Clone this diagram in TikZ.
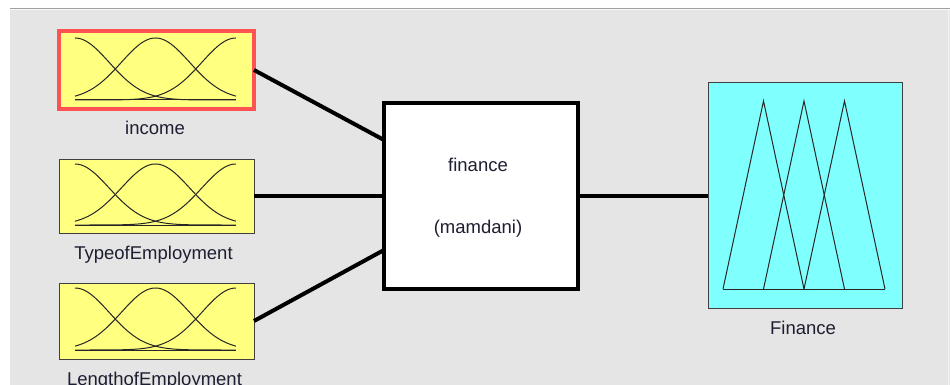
\documentclass[tikz,border=0pt]{standalone}
\usepackage{fontspec}
\setmainfont{Liberation Sans}
\usetikzlibrary{calc}
\definecolor{bggray}{HTML}{E5E5E5}
\definecolor{topline}{HTML}{A0A0A0}
\definecolor{mfyellow}{HTML}{FFFF80}
\definecolor{mfcyan}{HTML}{80FFFF}
\definecolor{selred}{HTML}{FF5252}
\definecolor{txtcol}{HTML}{1E1E32}
\newcommand\gaussgroup[2]{%
  \foreach \cc in {0,0.5,1}{
    \draw[mfline] plot[domain=0:1,samples=90,smooth] ({75+161*\x},{#2-(#2-#1)*exp(-((\x-\cc)^2)/0.0901)});
  }
  \draw[mfline] (75,#2) -- (236,#2);
}
\begin{document}
\begin{tikzpicture}[x=1pt,y=-1pt,
  mfline/.style={draw=black!85, line width=1pt},
  inbox/.style={draw=black!75, line width=1pt, fill=mfyellow, minimum width=195pt,
    minimum height=74pt, inner sep=0pt, outer sep=0pt, anchor=north west},
  selbox/.style={inbox, draw=selred, line width=4pt},
  corebox/.style={draw=black, line width=4pt, fill=white, minimum width=194pt,
    minimum height=186pt, inner sep=0pt, outer sep=0pt, anchor=north west},
  outbox/.style={draw=black!75, line width=1pt, fill=mfcyan, minimum width=194pt,
    minimum height=225pt, inner sep=0pt, outer sep=0pt, anchor=north west},
  lbl/.style={text=txtcol, font=\fontsize{18.5pt}{20pt}\selectfont, inner sep=0pt, anchor=base},
  conn/.style={draw=black, line width=4pt}]
\useasboundingbox (0,0) rectangle (950,385);
\clip (0,0) rectangle (950,385);
% background
\fill[white] (0,0) rectangle (950,385);
\fill[bggray] (10,9) rectangle (950,385);
\draw[topline, line width=1.2pt] (10,8.4) -- (950,8.4);
\draw[white!94!gray, line width=1pt] (10,9.8) -- (950,9.8);
\draw[white!90!gray, line width=1pt] (948.5,10) -- (948.5,385);
% input boxes
\node[selbox, minimum height=78pt] (inc) at (59,31) {};
\gaussgroup{38}{100}
\node[inbox] (typ) at (59,159) {};
\gaussgroup{164}{225}
\node[inbox, minimum height=76pt] (len) at (59,283) {};
\gaussgroup{288}{350}
% core
\node[corebox] (core) at (384,103) {};
\node[lbl] (coret) at (478,171) {finance};
\node[lbl] (corem) at (478,233) {(mamdani)};
% output
\node[outbox] (out) at (708,83) {};
\draw[mfline] (723,289) -- (763.5,101) -- (804,289);
\draw[mfline] (763.5,289) -- (804,101) -- (844.5,289);
\draw[mfline] (804,289) -- (844.5,101) -- (885,289);
\draw[mfline] (723,289) -- (885,289);
% labels
\node[lbl] (incl) at (155,135) {income};
\node[lbl] (typl) at (153.5,259) {TypeofEmployment};
\node[lbl] (lenl) at (154.5,385) {LengthofEmployment};
\node[lbl] (outl) at (803,334) {Finance};
% connectors
\draw[conn] (inc.east) -- ($(core.west)+(0,-56)$);
\draw[conn] (typ.east) -- (core.west);
\draw[conn] (len.east) -- ($(core.west)+(0,54)$);
\draw[conn] (core.east) -- (core.east -| out.west);
\end{tikzpicture}
\end{document}
